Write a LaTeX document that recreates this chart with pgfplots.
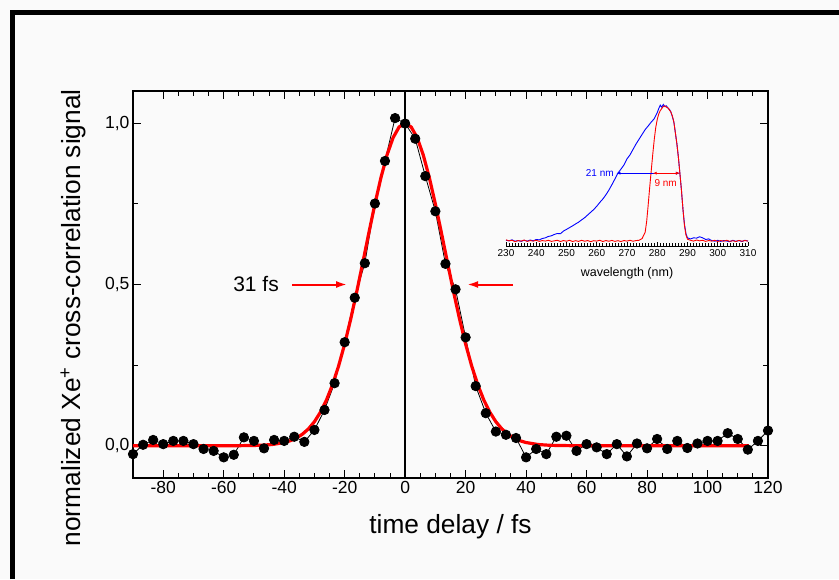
\documentclass[border=0pt]{standalone}
\usepackage{fontspec}
\setmainfont{Liberation Sans}
\usepackage{pgfplots}
\pgfplotsset{compat=1.18}
\usetikzlibrary{arrows.meta}
\definecolor{bgcol}{RGB}{250,250,250}
\begin{document}
\begin{tikzpicture}[x=1pt,y=1pt]
\fill[bgcol] (-133,-101) rectangle (706,478);
\draw[black, line width=5pt] (-120.5,-101) -- (-120.5,465.5) -- (706,465.5);
\begin{axis}[at={(0,0)}, anchor=south west, scale only axis,
  width=635pt, height=387pt,
  xmin=-90, xmax=120, ymin=-0.1, ymax=1.1,
  xtick={-80,-60,...,120}, minor x tick num=3,
  ytick={0,0.5,1}, minor y tick num=1,
  tick align=inside, major tick length=8pt, minor tick length=5pt,
  axis line style={line width=1.5pt},
  every tick/.style={black, line width=1pt},
  /pgf/number format/assume math mode=true,
  yticklabel style={/pgf/number format/.cd, use comma, fixed, fixed zerofill, precision=1},
  tick label style={font=\fontsize{17.5}{20}\selectfont},
  xlabel={time delay / fs},
  ylabel={normalized Xe\textsuperscript{+} cross-correlation signal},
  label style={font=\fontsize{26.3}{30}\selectfont},
  xlabel style={at={(axis description cs:0.5,-0.127)}, anchor=center},
  ylabel style={at={(axis description cs:-0.0945,0.414)}, anchor=center},
]
\addplot[black, line width=1.5pt] coordinates {(0,-0.1) (0,1.1)};
\addplot[black, line width=0.8pt, mark=*, mark size=4.7pt, mark options={fill=black, solid}] coordinates {
(-90.0,-0.026) (-86.67,0.003) (-83.33,0.018) (-80.0,0.005) (-76.67,0.015) (-73.33,0.015)
(-70.0,0.005) (-66.67,-0.010) (-63.33,-0.016) (-60.0,-0.036) (-56.67,-0.028) (-53.33,0.026)
(-50.0,0.015) (-46.67,-0.008) (-43.33,0.018) (-40.0,0.015) (-36.67,0.028) (-33.33,0.012)
(-30.0,0.049) (-26.67,0.111) (-23.33,0.194) (-20.0,0.321) (-16.67,0.459) (-13.33,0.566)
(-10.0,0.751) (-6.67,0.883) (-3.33,1.016) (0,0.999) (3.33,0.952) (6.67,0.836)
(10,0.727) (13.33,0.564) (16.67,0.485) (20,0.336) (23.33,0.185) (26.67,0.101)
(30,0.044) (33.33,0.034) (36.67,0.024) (40,-0.036) (43.33,-0.010) (46.67,-0.026)
(50,0.028) (53.33,0.031) (56.67,-0.016) (60,0.005) (63.33,-0.005) (66.67,-0.026)
(70,0.005) (73.33,-0.033) (76.67,0.007) (80,-0.008) (83.33,0.021) (86.67,-0.010)
(90,0.015) (93.33,-0.007) (96.67,0.007) (100,0.015) (103.33,0.015) (106.67,0.039)
(110,0.021) (113.33,-0.012) (116.67,0.015) (120,0.047)};
\addplot[red, line width=3.2pt, line join=round] coordinates {
(-90,0) (-60,0) (-55,0.0002) (-48,0.0013) (-44,0.0038) (-40,0.0099) (-38,0.0155) (-36,0.0238)
(-34,0.0356) (-32,0.0521) (-30,0.0745) (-28,0.1042) (-26,0.1422) (-24,0.1898) (-22,0.2475)
(-20,0.3154) (-18,0.3927) (-16,0.4778) (-14,0.5681) (-12,0.6601) (-10,0.7494) (-8,0.8314)
(-6,0.9013) (-4,0.9549) (-2,0.9885) (0,1) (2,0.9885) (4,0.9549) (6,0.9013) (8,0.8314)
(10,0.7494) (12,0.6601) (14,0.5681) (16,0.4778) (18,0.3927) (20,0.3154) (22,0.2475)
(24,0.1898) (26,0.1422) (28,0.1042) (30,0.0745) (32,0.0521) (34,0.0356) (36,0.0238)
(38,0.0155) (40,0.0099) (44,0.0038) (48,0.0013) (55,0.0002) (60,0) (113.7,0)};
\draw[red, line width=2pt, -{Latex[length=11pt,width=7pt]}] (axis cs:-37.4,0.5) -- (axis cs:-19.2,0.5);
\draw[red, line width=2pt, -{Latex[length=11pt,width=7pt]}] (axis cs:35.7,0.5) -- (axis cs:20.5,0.5);
\node[font=\fontsize{21}{24}\selectfont] at (axis cs:-49.3,0.5) {31 fs};
\end{axis}
\begin{axis}[at={(373pt,232pt)}, anchor=south west, scale only axis,
  width=242pt, height=147pt,
  xmin=230, xmax=310, ymin=-0.03, ymax=1.05,
  hide y axis, axis x line*=bottom,
  x axis line style={-, line width=0.8pt},
  xtick={230,240,...,310}, minor x tick num=9,
  tick align=inside, major tick length=4pt, minor tick length=2.5pt,
  every tick/.style={black, line width=0.6pt},
  /pgf/number format/assume math mode=true,
  xticklabel style={font=\fontsize{10}{12}\selectfont, /pgf/number format/1000 sep={}},
  xlabel={wavelength (nm)},
  xlabel style={font=\fontsize{12.5}{15}\selectfont, at={(axis description cs:0.5,0)}, anchor=center, yshift=-27pt},
  clip=false,
]
\addplot[blue, line width=0.9pt] coordinates {
(230,0.012) (231,0.008) (232,0.015) (233,0.005) (234,0.010) (235,0.004) (236,0.012) (237,0.006)
(238,0.014) (239,0.008) (240,0.018) (241,0.015) (242,0.025) (243,0.030) (244,0.040) (245,0.045)
(246,0.055) (247,0.062) (248,0.060) (249,0.080) (250,0.092) (251,0.105) (252,0.118) (253,0.132)
(254,0.145) (255,0.162) (256,0.178) (257,0.198) (258,0.218) (259,0.238) (260,0.262) (261,0.290)
(262,0.315) (263,0.345) (264,0.380) (265,0.420) (266,0.462) (267,0.505) (268,0.535) (269,0.565)
(270,0.610) (271,0.640) (272,0.680) (273,0.720) (274,0.755) (275,0.790) (276,0.825) (277,0.852)
(278,0.880) (279,0.905) (280,0.950) (280.5,0.98) (281,1.005) (281.5,0.99) (282,1.01) (282.5,0.995)
(283,1.0) (283.5,0.985) (284,0.975) (284.5,0.955) (285,0.920) (285.5,0.88) (286,0.80) (286.5,0.72)
(287,0.62) (287.5,0.50) (288,0.38) (288.5,0.24) (289,0.13) (289.5,0.06) (290,0.03) (291,0.022)
(292,0.030) (293,0.028) (294,0.038) (295,0.030) (296,0.018) (297,0.022) (298,0.010) (299,0.005)
(300,0.012) (301,0.004) (302,0.010) (303,0.006) (304,0.002) (305,0.012) (306,0.004) (307,0.010)
(308,0.003) (309,0.012) (310,0.006)};
\addplot[red, line width=0.9pt] coordinates {
(230,0.015) (231,0.008) (232,0.012) (233,0.002) (234,0.010) (235,0.006) (236,0.014) (237,0.004)
(238,0.010) (239,0.006) (240,0.012) (241,0.004) (242,0.010) (243,0.006) (244,0.012) (245,0.004)
(246,0.008) (247,0.012) (248,0.003) (249,0.010) (250,0.005) (251,0.012) (252,0.003) (253,0.009)
(254,0.004) (255,0.012) (256,0.005) (257,0.010) (258,0.002) (259,0.009) (260,0.006) (261,0.012)
(262,0.003) (263,0.010) (264,0.005) (265,0.011) (266,0.004) (267,0.009) (268,0.003) (269,0.010)
(270,0.006) (271,0.012) (272,0.005) (273,0.010) (274,0.012) (275,0.025) (276,0.070) (276.5,0.15)
(277,0.27) (277.5,0.40) (278,0.52) (278.5,0.64) (279,0.75) (279.5,0.84) (280,0.90) (280.5,0.94)
(281,0.965) (281.5,0.98) (282,0.995) (282.5,1.0) (283,0.99) (283.5,0.985) (284,0.97) (284.5,0.955)
(285,0.925) (285.5,0.88) (286,0.80) (286.5,0.72) (287,0.62) (287.5,0.50) (288,0.38) (288.5,0.24)
(289,0.12) (289.5,0.05) (290,0.02) (291,0.012) (292,0.006) (293,0.014) (294,0.008) (295,0.012)
(296,0.004) (297,0.010) (298,0.006) (299,0.012) (300,0.003) (301,0.010) (302,0.005) (303,0.012)
(304,0.004) (305,0.009) (306,0.003) (307,0.011) (308,0.005) (309,0.010) (310,0.006)};
\draw[blue, line width=0.6pt, {Latex[length=4pt,width=3pt]}-{Latex[length=4pt,width=3pt]}] (axis cs:266.5,0.505) -- (axis cs:287.5,0.505);
\draw[red, line width=0.6pt, {Latex[length=4pt,width=3pt]}-{Latex[length=4pt,width=3pt]}] (axis cs:278.5,0.505) -- (axis cs:287.5,0.505);
\node[blue, anchor=east, inner sep=1pt, font=\fontsize{10}{12}\selectfont] at (axis cs:266,0.505) {21 nm};
\node[red, inner sep=1pt, font=\fontsize{10}{12}\selectfont] at (axis cs:282.8,0.43) {9 nm};
\end{axis}
\pgfresetboundingbox
\path (-133,-101) rectangle (706,478);
\end{tikzpicture}
\end{document}
